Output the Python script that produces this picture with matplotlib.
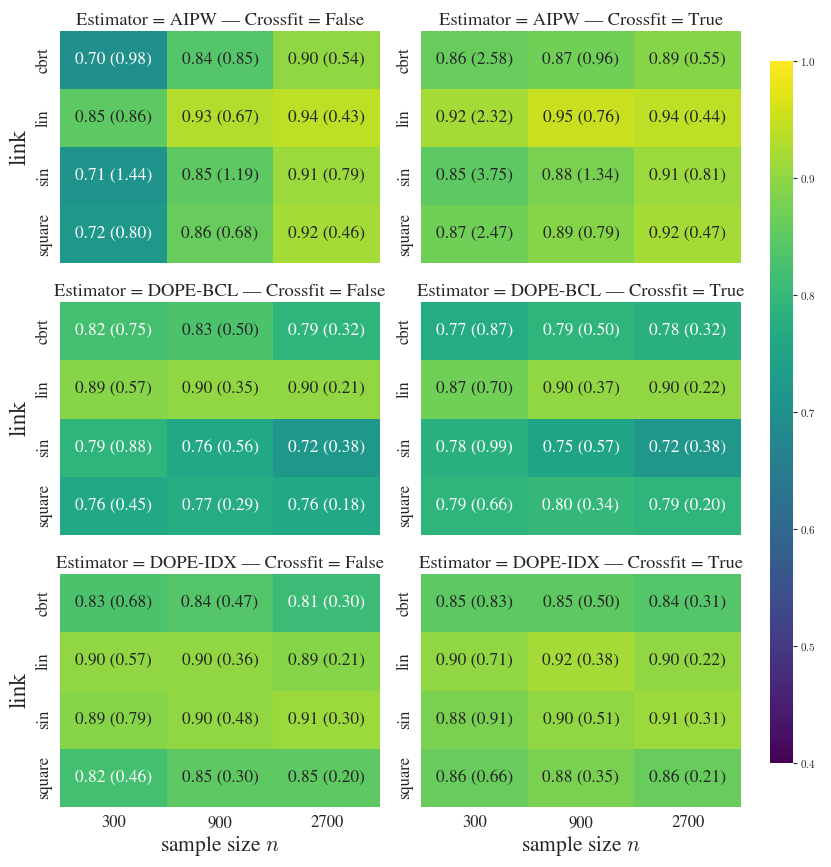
import numpy as np
import matplotlib
matplotlib.use("Agg")
import matplotlib.pyplot as plt
import seaborn as sns
from matplotlib.font_manager import FontProperties

sns.set_theme(style="white")
plt.rcParams['font.family'] = ['STIXGeneral', 'DejaVu Serif']
plt.rcParams['mathtext.fontset'] = 'cm'

links = ["cbrt", "lin", "sin", "square"]
sample_sizes = ["300", "900", "2700"]
estimators = ["AIPW", "DOPE-BCL", "DOPE-IDX"]
crossfits = ["False", "True"]

cov_aipw_false = [[0.70, 0.84, 0.90], [0.85, 0.93, 0.94], [0.71, 0.85, 0.91], [0.72, 0.86, 0.92]]
wid_aipw_false = [[0.98, 0.85, 0.54], [0.86, 0.67, 0.43], [1.44, 1.19, 0.79], [0.80, 0.68, 0.46]]
cov_aipw_true = [[0.86, 0.87, 0.89], [0.92, 0.95, 0.94], [0.85, 0.88, 0.91], [0.87, 0.89, 0.92]]
wid_aipw_true = [[2.58, 0.96, 0.55], [2.32, 0.76, 0.44], [3.75, 1.34, 0.81], [2.47, 0.79, 0.47]]
cov_bcl_false = [[0.82, 0.83, 0.79], [0.89, 0.90, 0.90], [0.79, 0.76, 0.72], [0.76, 0.77, 0.76]]
wid_bcl_false = [[0.75, 0.50, 0.32], [0.57, 0.35, 0.21], [0.88, 0.56, 0.38], [0.45, 0.29, 0.18]]
cov_bcl_true = [[0.77, 0.79, 0.78], [0.87, 0.90, 0.90], [0.78, 0.75, 0.72], [0.79, 0.80, 0.79]]
wid_bcl_true = [[0.87, 0.50, 0.32], [0.70, 0.37, 0.22], [0.99, 0.57, 0.38], [0.66, 0.34, 0.20]]
cov_idx_false = [[0.83, 0.84, 0.81], [0.90, 0.90, 0.89], [0.89, 0.90, 0.91], [0.82, 0.85, 0.85]]
wid_idx_false = [[0.68, 0.47, 0.30], [0.57, 0.36, 0.21], [0.79, 0.48, 0.30], [0.46, 0.30, 0.20]]
cov_idx_true = [[0.85, 0.85, 0.84], [0.90, 0.92, 0.90], [0.88, 0.90, 0.91], [0.86, 0.88, 0.86]]
wid_idx_true = [[0.83, 0.50, 0.31], [0.71, 0.38, 0.22], [0.91, 0.51, 0.31], [0.66, 0.35, 0.21]]

panels = {
    ("AIPW", "False"): (cov_aipw_false, wid_aipw_false),
    ("AIPW", "True"): (cov_aipw_true, wid_aipw_true),
    ("DOPE-BCL", "False"): (cov_bcl_false, wid_bcl_false),
    ("DOPE-BCL", "True"): (cov_bcl_true, wid_bcl_true),
    ("DOPE-IDX", "False"): (cov_idx_false, wid_idx_false),
    ("DOPE-IDX", "True"): (cov_idx_true, wid_idx_true),
}

W, H = 831, 867
fig = plt.figure(figsize=(W / 100, H / 100), dpi=100)

col_x = [60, 421]
row_y = [(31, 263), (302, 535), (574, 807)]
pw = 320

for r, est in enumerate(estimators):
    for c, cf in enumerate(crossfits):
        y0, y1 = row_y[r]
        ax = fig.add_axes([col_x[c] / W, (H - y1) / H, pw / W, (y1 - y0) / H])
        cov, wid = panels[(est, cf)]
        cov = np.array(cov)
        wid = np.array(wid)
        annot = np.array([[f"{cov[i, j]:.2f} ({wid[i, j]:.2f})" for j in range(3)] for i in range(4)])
        sns.heatmap(cov, ax=ax, cmap="viridis", vmin=0.4, vmax=1.0, annot=annot, fmt="",
                    cbar=False, annot_kws={"fontsize": 12.5},
                    xticklabels=sample_sizes, yticklabels=links)
        ax.set_title(f"Estimator = {est} — Crossfit = {cf}", fontsize=13.3, pad=4)
        ax.tick_params(length=0, labelsize=12, pad=6)
        for lab in ax.get_yticklabels():
            lab.set_rotation(90)
            lab.set_va("center")
        if r < 2:
            ax.set_xticklabels([])
            ax.set_xlabel("")
        else:
            ax.set_xlabel("sample size $n$", fontsize=15.5, labelpad=2)
        if c == 0:
            ax.set_ylabel("link", fontsize=16.5, labelpad=4)
        else:
            ax.set_ylabel("")

cax = fig.add_axes([770 / W, (H - 763) / H, 23 / W, 702 / H])
sm = matplotlib.cm.ScalarMappable(norm=matplotlib.colors.Normalize(0.4, 1.0), cmap="viridis")
cb = fig.colorbar(sm, cax=cax)
cb.outline.set_visible(False)
ticks = [0.4, 0.5, 0.6, 0.7, 0.8, 0.9, 1.0]
cb.set_ticks(ticks)
cb.set_ticklabels([f"${t:.1f}$" for t in ticks])
cax.tick_params(length=3, width=0.8, labelsize=8, pad=2)
for lab in cax.get_yticklabels():
    lab.set_fontproperties(FontProperties(size=8, math_fontfamily='cm'))

fig.savefig("out.png", dpi=100)
